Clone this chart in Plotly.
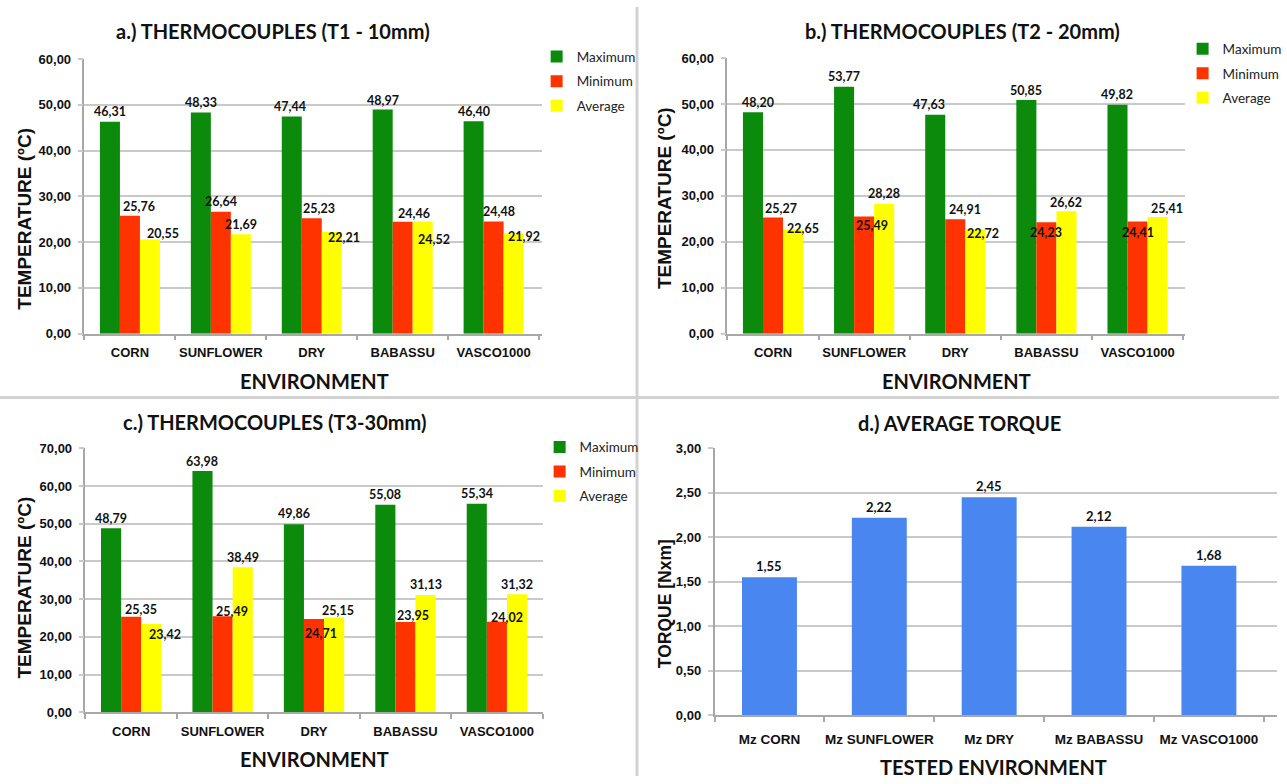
import plotly.graph_objects as go

# ---- data -------------------------------------------------------------
categories = ["CORN", "SUNFLOWER", "DRY", "BABASSU", "VASCO1000"]

t1_max = [46.31, 48.33, 47.44, 48.97, 46.40]
t1_min = [25.76, 26.64, 25.23, 24.46, 24.48]
t1_avg = [20.55, 21.69, 22.21, 24.52, 21.92]

t2_max = [48.20, 53.77, 47.63, 50.85, 49.82]
t2_min = [25.27, 25.49, 24.91, 24.23, 24.41]
t2_avg = [22.65, 28.28, 22.72, 26.62, 25.41]

t3_max = [48.79, 63.98, 49.86, 55.08, 55.34]
t3_min = [25.35, 25.49, 24.71, 23.95, 24.02]
t3_avg = [23.42, 38.49, 25.15, 31.13, 31.32]

torque_labels = ["Mz CORN", "Mz SUNFLOWER", "Mz DRY", "Mz BABASSU", "Mz VASCO1000"]
torque = [1.55, 2.22, 2.45, 2.12, 1.68]

series_names = ["Maximum", "Minimum", "Average"]

# ---- label nudges (pixels) so overlapping value labels stay readable ---
t1_dx = [[0, 0, -2, 0, 0], [9, 0, 7, 11, 5], [13, 0, 12, 11, 10]]
t1_dy = [[10, 10, 10, 9, 10], [9, 10, 10, 8, 10], [6, 10, -6, -18, -3]]
t2_dx = [[5, 0, -6, 0, 0], [8, 8, 10, 0, 0], [10, 0, 8, 0, 9]]
t2_dy = [[10, 10, 10, 10, 10], [9, -9, 10, -10, -11], [1, 10, -4, 9, 8]]
t3_dx = [[0, 0, 0, 0, 0], [10, 9, 7, 8, 10], [14, 0, 4, 0, 0]]
t3_dy = [[10, 10, 11, 10, 10], [7, 5, -14, 6, 4], [-11, 10, 7, 10, 10]]

# ---- style ------------------------------------------------------------
W, H = 1287, 784
COLORS = ["#0b8a0b", "#ff3300", "#ffff00"]
BLUE = "#4a86ef"
GRID = "#c9c9c9"
AXIS = "#a8a8a8"
SANS = "Liberation Sans, Arial, sans-serif"
TITLE_FONT = "Lato, Open Sans, sans-serif"
BAR_W = (1 - 0.34) / 3


def xdom(x0, x1):
    return [x0 / W, x1 / W]


def ydom(top, bottom):
    return [1 - bottom / H, 1 - top / H]


def fmt(v):
    return f"{v:.2f}".replace(".", ",")


fig = go.Figure()
annotations = []

panels = [
    ("a", "x", "y", "legend", [t1_max, t1_min, t1_avg], t1_dx, t1_dy),
    ("b", "x2", "y2", "legend2", [t2_max, t2_min, t2_avg], t2_dx, t2_dy),
    ("c", "x3", "y3", "legend3", [t3_max, t3_min, t3_avg], t3_dx, t3_dy),
]

for key, xa, ya, lg, series, dxs, dys in panels:
    for j, (name, vals) in enumerate(zip(series_names, series)):
        fig.add_trace(go.Bar(
            x=categories, y=vals, name=name,
            marker=dict(color=COLORS[j], line=dict(width=0)),
            xaxis=xa, yaxis=ya, legend=lg,
            legendgroup=f"{key}{j}", offsetgroup=str(j),
            hoverinfo="x+y+name",
        ))
        for i, v in enumerate(vals):
            annotations.append(dict(
                x=i + (j - 1) * BAR_W, y=v, xref=xa, yref=ya,
                text=f"<b>{fmt(v)}</b>", showarrow=False,
                xanchor="center", yanchor="middle",
                xshift=dxs[j][i], yshift=dys[j][i],
                font=dict(family=TITLE_FONT, size=12.5, color="#111111"),
            ))

fig.add_trace(go.Bar(
    x=torque_labels, y=torque, width=0.5, showlegend=False,
    marker=dict(color=BLUE, line=dict(width=0)),
    xaxis="x4", yaxis="y4",
))
for i, v in enumerate(torque):
    annotations.append(dict(
        x=i, y=v, xref="x4", yref="y4", text=f"<b>{fmt(v)}</b>",
        showarrow=False, xanchor="center", yanchor="middle", yshift=11,
        font=dict(family=TITLE_FONT, size=13, color="#111111"),
    ))


# ---- panel titles and axis titles ---------------------------------------
def text_ann(txt, x, y, size, family=TITLE_FONT, angle=0):
    return dict(x=x / W, y=1 - y / H, xref="paper", yref="paper",
                text=f"<b>{txt}</b>", showarrow=False, textangle=angle,
                xanchor="center", yanchor="middle",
                font=dict(family=family, size=size, color="#111111"))


annotations += [
    text_ann("a.) THERMOCOUPLES (T1 - 10mm)", 275, 24, 20),
    text_ann("b.) THERMOCOUPLES (T2 - 20mm)", 969, 24, 20),
    text_ann("c.) THERMOCOUPLES (T3-30mm)", 276, 423, 20),
    text_ann("d.) AVERAGE TORQUE", 966, 424, 20),
    text_ann("ENVIRONMENT", 316, 381, 20),
    text_ann("ENVIRONMENT", 962, 381, 20),
    text_ann("ENVIRONMENT", 316, 767, 20),
    text_ann("TESTED ENVIRONMENT", 1000, 775, 20),
    text_ann("TEMPERATURE (ºC)", 25, 216, 19, SANS, -90),
    text_ann("TEMPERATURE (ºC)", 668, 195, 19, SANS, -90),
    text_ann("TEMPERATURE (ºC)", 25, 592, 19, SANS, -90),
    text_ann("TORQUE [Nxm]", 670, 608, 17.5, SANS, -90),
]

tickfont = dict(family=SANS, size=13, color="#111111", weight="bold")
tickfont_d = dict(family=SANS, size=13.5, color="#111111", weight="bold")


def x_axis(dom, anchor, rng=None, font=tickfont, standoff=6):
    d = dict(domain=dom, anchor=anchor, type="category", showline=True,
             linecolor=AXIS, linewidth=1.5, ticks="outside", tickson="boundaries",
             ticklen=5, tickcolor=AXIS, tickwidth=1.5, showgrid=False,
             tickangle=0, tickfont=font, ticklabelstandoff=standoff,
             fixedrange=True)
    if rng is not None:
        d["range"] = rng
    return d


def y_axis(dom, anchor, top, step):
    return dict(domain=dom, anchor=anchor, range=[0, top], dtick=step,
                tickformat=".2f", showgrid=True, gridcolor=GRID, gridwidth=1.5,
                showline=True, linecolor=AXIS, linewidth=1.5, ticks="outside",
                ticklen=5, tickcolor=GRID, tickwidth=1.5, zeroline=False,
                tickfont=tickfont, ticklabelstandoff=4, fixedrange=True)


def legend_at(x, y):
    return dict(x=x / W, y=1 - y / H, xanchor="left", yanchor="top",
                bgcolor="rgba(0,0,0,0)", tracegroupgap=4, itemwidth=30,
                font=dict(family=TITLE_FONT, size=13.5, color="#222222"))


fig.update_layout(
    width=W, height=H,
    margin=dict(l=0, r=0, t=0, b=0),
    paper_bgcolor="white", plot_bgcolor="white",
    separators=",.",
    barmode="group", bargap=0.34, bargroupgap=0,
    xaxis=x_axis(xdom(85, 545), "y"),
    yaxis=y_axis(ydom(53, 333), "x", 60, 10),
    xaxis2=x_axis(xdom(732, 1192), "y2"),
    yaxis2=y_axis(ydom(52, 333), "x2", 60, 10),
    xaxis3=x_axis(xdom(86, 546), "y3"),
    yaxis3=y_axis(ydom(450, 719), "x3", 70, 10),
    xaxis4=x_axis(xdom(719, 1285), "y4", [-0.5, 4.62], tickfont_d, 11),
    yaxis4=y_axis(ydom(450, 722), "x4", 3, 0.5),
    legend=legend_at(540, 35),
    legend2=legend_at(1190, 27),
    legend3=legend_at(543, 433),
    annotations=annotations,
    shapes=[
        dict(type="line", xref="paper", yref="paper", x0=641 / W, x1=641 / W,
             y0=0, y1=1, line=dict(color="#d2d2d2", width=3)),
        dict(type="line", xref="paper", yref="paper", x0=0, x1=1,
             y0=1 - 398 / H, y1=1 - 398 / H, line=dict(color="#d2d2d2", width=3)),
    ],
    showlegend=True,
)

fig.write_html("out.html")
